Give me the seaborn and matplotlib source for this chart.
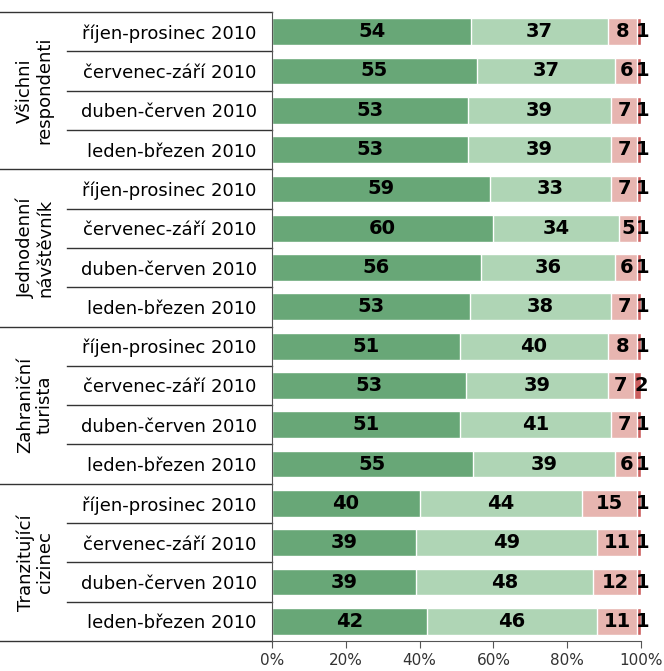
import seaborn as sns
import matplotlib.pyplot as plt
import numpy as np
import pandas as pd

# data, top to bottom
groups = ["Všichni\nrespondenti", "Jednodenní\nnávštěvník", "Zahraniční\nturista", "Tranzitující\ncizinec"]
periods = ["říjen-prosinec 2010", "červenec-září 2010", "duben-červen 2010", "leden-březen 2010"]
s1 = [54, 55, 53, 53, 59, 60, 56, 53, 51, 53, 51, 55, 40, 39, 39, 42]
s2 = [37, 37, 39, 39, 33, 34, 36, 38, 40, 39, 41, 39, 44, 49, 48, 46]
s3 = [8, 6, 7, 7, 7, 5, 6, 7, 8, 7, 7, 6, 15, 11, 12, 11]
s4 = [1, 1, 1, 1, 1, 1, 1, 1, 1, 2, 1, 1, 1, 1, 1, 1]
colors = ["#68a777", "#afd5b5", "#e7b5b0", "#cc5f5f"]

vals = np.array([s1, s2, s3, s4], dtype=float)
shares = vals / vals.sum(axis=0) * 100
cum = np.cumsum(shares, axis=0)
rows = [f"r{i}" for i in range(len(s1))]

fig = plt.figure(figsize=(6.64, 6.71), dpi=100)
ax = fig.add_axes([272 / 664, 1 - 641 / 671, 369 / 664, 629 / 671])

# stacked bars: draw cumulative totals, widest first
for k in range(3, -1, -1):
    df = pd.DataFrame({"row": rows, "val": cum[k]})
    sns.barplot(data=df, x="val", y="row", order=rows, orient="h", color=colors[k],
                width=0.68, edgecolor="white", linewidth=1, saturation=1, ax=ax)

# value labels (last one nudged right a bit, like the original)
for k in range(4):
    for i in range(len(rows)):
        left = cum[k][i] - shares[k][i]
        xpos = left + shares[k][i] / 2 + (1.0 if k == 3 else 0)
        ax.text(xpos, i, f"{int(vals[k][i])}", ha="center", va="center",
                fontsize=14, fontweight="bold", color="black", clip_on=False)

ax.set_xlim(0, 100)
ax.set_ylim(15.5, -0.5)
ax.set_xticks([0, 20, 40, 60, 80, 100])
ax.set_xticklabels([f"{t}%" for t in [0, 20, 40, 60, 80, 100]], fontsize=11)
ax.set_yticks(range(16))
ax.set_yticklabels(periods * 4, fontsize=13)
ax.tick_params(axis="y", length=0, pad=11)
ax.tick_params(axis="x", length=5, color="#555555", labelcolor="#333333")
ax.set_xlabel("")
ax.set_ylabel("")
for side in ["top", "right"]:
    ax.spines[side].set_visible(False)
ax.spines["left"].set_color("#555555")
ax.spines["bottom"].set_color("#555555")

# label table lines and group names
trans = ax.get_yaxis_transform()
x0 = -272 / 369
x1 = -205 / 369
for g in range(5):
    y = g * 4 - 0.5
    ax.plot([x0, 0], [y, y], color="#333333", lw=1, transform=trans, clip_on=False)
for g in range(4):
    for j in range(1, 4):
        y = g * 4 + j - 0.5
        ax.plot([x1, 0], [y, y], color="#333333", lw=1, transform=trans, clip_on=False)
    ax.text(-237 / 369, g * 4 + 1.5, groups[g], rotation=90, ha="center", va="center",
            fontsize=13, transform=trans, linespacing=1.1)

fig.savefig("out.png", dpi=100)
